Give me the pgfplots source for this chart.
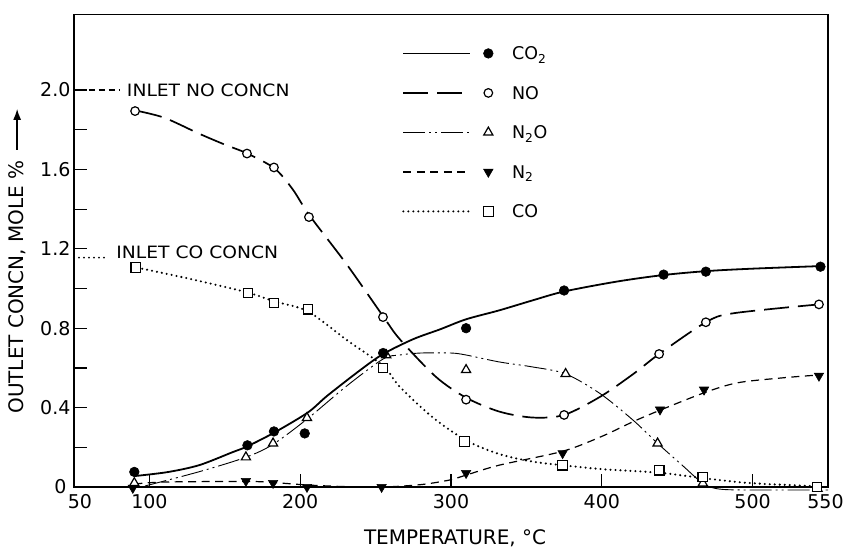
\documentclass[border=0pt]{standalone}
\usepackage{fontspec}
\setmainfont{DejaVu Sans}
\usepackage{pgfplots}
\pgfplotsset{compat=1.18}
\usetikzlibrary{arrows.meta}
\begin{document}
\begin{tikzpicture}
\useasboundingbox (-74pt,-62pt) rectangle (770pt,487pt);
\pgfplotsset{
 co2line/.style={black, line width=1.8pt, solid},
 noline/.style={black, line width=1.7pt, dash pattern=on 25pt off 9pt},
 n2oline/.style={black, line width=0.9pt, dash pattern=on 22pt off 4pt on 2pt off 4pt on 2pt off 4pt},
 n2line/.style={black, line width=1.2pt, dash pattern=on 8pt off 5.5pt},
 coline/.style={black, line width=2.3pt, line cap=round, dash pattern=on 0pt off 5pt},
 co2mark/.style={mark=*, mark size=4.8pt, mark options={solid, fill=black, draw=black, line width=0.6pt}},
 nomark/.style={mark=*, mark size=4.3pt, mark options={solid, fill=white, draw=black, line width=1.2pt}},
 n2omark/.style={mark=triangle*, mark size=5.3pt, mark options={solid, fill=white, draw=black, line width=1.2pt}},
 n2mark/.style={mark=triangle*, mark size=5.4pt, mark options={solid, fill=black, draw=black, line width=0.6pt, rotate=180}},
 comark/.style={mark=square*, mark size=4.8pt, mark options={solid, fill=white, draw=black, line width=1.2pt}},
}
\begin{axis}[
 at={(0,0)}, anchor=south west,
 scale only axis, width=754pt, height=472.4pt,
 xmin=50, xmax=550, ymin=0, ymax=2.38,
 clip=false,
 axis line style={black, line width=1.4pt},
 tick align=inside, xtick pos=bottom, ytick pos=left,
 major tick length=13pt, minor tick length=13pt,
 every tick/.style={black, line width=1.2pt},
 xtick={50,100,200,300,400,500,550},
 xticklabels={\hspace*{12pt}50,100,200,300,400,500,550\hspace*{5pt}},
 ytick={0,0.4,0.8,1.2,1.6,2.0},
 yticklabels={0\hspace*{4pt},0.4,0.8,1.2,1.6,2.0},
 minor ytick={0.2,0.6,1.0,1.4,1.8},
 ticklabel style={font=\fontsize{19}{22}\selectfont},
 xticklabel style={yshift=-4pt},
 legend image code/.code={\draw[#1, mark=none] (0pt,0pt) -- (67pt,0pt); \draw[#1] plot coordinates {(85pt,0pt)};},
 legend style={at={(0.435,0.932)}, anchor=north west, draw=none, fill=none, inner sep=0pt,
   row sep=26.5pt, column sep=19pt, font=\fontsize{17.5}{20}\selectfont,
   nodes={inner sep=0pt, text height=13pt, text depth=0pt}},
 legend cell align=left,
]
\addlegendimage{co2line, co2mark}\addlegendentry{CO\textsubscript{2}}
\addlegendimage{noline, nomark}\addlegendentry{NO}
\addlegendimage{n2oline, n2omark}\addlegendentry{N\textsubscript{2}O}
\addlegendimage{n2line, n2mark}\addlegendentry{N\textsubscript{2}}
\addlegendimage{coline, comark}\addlegendentry{CO}

% inlet reference lines
\addplot[forget plot, black, line width=1.1pt, dash pattern=on 6pt off 4pt] coordinates {(53,2.0) (80.5,2.0)};
\addplot[forget plot, coline, line width=2pt] coordinates {(50,1.155) (72.5,1.155)};
\node[anchor=west, font=\fontsize{17}{20}\selectfont, inner sep=0pt, xscale=1.1] at (axis cs:85,1.997) {INLET NO CONCN};
\node[anchor=west, font=\fontsize{17}{20}\selectfont, inner sep=0pt, xscale=1.1] at (axis cs:78,1.18) {INLET CO CONCN};

% CO2 curve
\addplot[forget plot, co2line, smooth, tension=0.5] coordinates {
(90,0.055)(112,0.075)(133,0.11)(155,0.175)(165,0.205)(183,0.275)(205,0.375)(218,0.46)(240,0.59)(255,0.67)(275,0.745)(293,0.795)(310,0.845)(332,0.89)(354,0.94)(375,0.985)(410,1.035)(441,1.068)(470,1.088)(500,1.10)(545,1.113)};
% NO curve
\addplot[forget plot, noline, smooth, tension=0.5] coordinates {
(92,1.895)(110,1.86)(133,1.78)(150,1.725)(165,1.68)(183,1.605)(195,1.50)(206,1.37)(231,1.12)(255,0.86)(266,0.745)(290,0.555)(310,0.45)(332,0.38)(354,0.35)(375,0.363)(399,0.455)(421,0.57)(438,0.67)(469,0.83)(487,0.875)(544,0.92)};
% N2O curve
\addplot[forget plot, n2oline, smooth, tension=0.5] coordinates {
(97,0.005)(133,0.077)(164,0.15)(182,0.215)(205,0.345)(231,0.51)(255,0.645)(266,0.665)(280,0.675)(300,0.675)(310,0.665)(332,0.63)(354,0.605)(376,0.57)(399,0.47)(421,0.335)(437,0.22)(454,0.105)(467,0.02)(480,-0.012)(520,-0.015)(550,-0.015)};
% N2 curve
\addplot[forget plot, n2line, smooth, tension=0.5] coordinates {
(90,0.015)(110,0.025)(165,0.028)(183,0.022)(205,0.01)(230,0.002)(255,0.0)(280,0.012)(299,0.035)(310,0.06)(332,0.11)(374,0.18)(400,0.255)(421,0.33)(438,0.385)(468,0.475)(490,0.525)(520,0.55)(545,0.565)};
% CO curve
\addplot[forget plot, coline, smooth, tension=0.5] coordinates {
(92,1.105)(129,1.045)(165,0.98)(183,0.935)(205,0.885)(231,0.74)(255,0.61)(266,0.505)(288,0.35)(310,0.235)(332,0.166)(354,0.128)(374,0.11)(400,0.09)(438,0.072)(467,0.045)(498,0.02)(545,0.003)};

% data markers
\addplot[forget plot, only marks, n2omark] coordinates {
(90,0.02)(164,0.15)(182,0.22)(204.5,0.348)(257,0.665)(310,0.59)(376,0.57)(437,0.22)(467,0.019)(543,-0.008)};
\addplot[forget plot, only marks, co2mark] coordinates {
(90,0.076)(165,0.21)(182.6,0.28)(203,0.27)(255,0.675)(310,0.80)(375,0.99)(441,1.07)(469,1.085)(545,1.11)};
\addplot[forget plot, only marks, nomark] coordinates {
(90.5,1.894)(164.7,1.68)(182.6,1.61)(205.8,1.36)(254.9,0.856)(310,0.44)(375,0.363)(438,0.67)(469,0.83)(544,0.92)};
\addplot[forget plot, only marks, n2mark] coordinates {
(89,-0.005)(164,0.03)(182,0.02)(204.5,0.0)(254,0.0)(310,0.07)(374,0.17)(438.6,0.39)(467.8,0.49)(544,0.56)};
\addplot[forget plot, only marks, comark] coordinates {
(91,1.105)(165.4,0.977)(182.6,0.927)(205.2,0.896)(254.9,0.60)(309,0.23)(374,0.11)(438,0.085)(467,0.05)(542.7,0.0)};

% axis labels
\node[font=\fontsize{20}{24}\selectfont] at (axis cs:302.7,-0.257) {TEMPERATURE, °C};
\node[rotate=90, anchor=east, font=\fontsize{20}{24}\selectfont, inner sep=0pt] at (axis cs:12.5,1.647) {OUTLET CONCN, MOLE \%};
\draw[black, line width=1.3pt, -{Latex[length=11pt,width=8pt]}] (axis cs:12.3,1.70) -- (axis cs:12.3,1.905);
\end{axis}
\end{tikzpicture}
\end{document}
